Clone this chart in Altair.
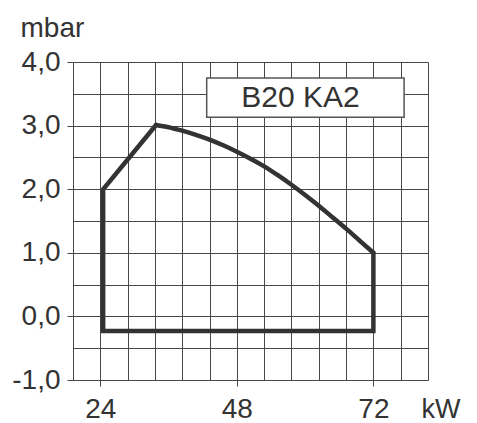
import altair as alt
import pandas as pd

# Operating envelope (kW vs mbar): straight part of the outline
edge_kw = [72.0, 72.0, 24.5, 24.5, 33.8]
edge_mbar = [1.0, -0.23, -0.23, 2.0, 3.01]

# Curved upper boundary
curve_kw = [33.8, 36.0, 38.4, 40.8, 43.2, 45.6, 48.0, 50.4, 52.8, 55.2, 57.6,
            60.0, 62.4, 64.8, 67.2, 69.6, 72.0]
curve_mbar = [3.01, 2.975, 2.92, 2.855, 2.78, 2.69, 2.59, 2.48, 2.36, 2.22, 2.07,
              1.91, 1.74, 1.56, 1.38, 1.19, 1.0]

# Axis grid and labels
x_grid = [19.2, 24.0, 28.8, 33.6, 38.4, 43.2, 48.0, 52.8, 57.6, 62.4, 67.2, 72.0, 76.8, 81.6]
x_labels = [24, 48, 72]
y_grid = [-1.0, -0.5, 0.0, 0.5, 1.0, 1.5, 2.0, 2.5, 3.0, 3.5, 4.0]

# Label box
box_text = ["B20 KA2"]
box_x = [42.7]
box_x2 = [77.4]
box_y = [3.13]
box_y2 = [3.75]
text_x = [59.2]
text_y = [3.44]

FONT = "Liberation Sans"
INK = "#333333"
GRID = "#474747"

edge = pd.DataFrame({"x": edge_kw, "y": edge_mbar, "order": list(range(len(edge_kw)))})
curve = pd.DataFrame({"x": curve_kw, "y": curve_mbar})
box = pd.DataFrame({"x": box_x, "x2": box_x2, "y": box_y, "y2": box_y2})
label = pd.DataFrame({"x": text_x, "y": text_y, "t": box_text})

x_test = " || ".join(f"datum.value == {v}" for v in x_labels)

xscale = alt.Scale(domain=[19.2, 81.6], nice=False, zero=False)
yscale = alt.Scale(domain=[-1.0, 4.0], nice=False, zero=False)

xaxis = alt.Axis(
    values=x_grid, grid=True, gridColor=GRID, gridOpacity=1, gridWidth=1,
    domain=False, tickColor=GRID, tickWidth=1, tickSize=6,
    tickOpacity={"condition": {"test": x_test, "value": 1}, "value": 0},
    labelExpr=f"({x_test}) ? datum.label : ''",
    labelFont=FONT, labelFontSize=28, labelColor=INK, labelPadding=9,
    labelFlush=False, labelOverlap=False, labelBound=False,
    title="kW", titleFont=FONT, titleFontSize=27, titleFontWeight="normal",
    titleColor=INK, titleAngle=0, titleAlign="left", titleBaseline="alphabetic",
    titleX=348, titleY=37,
)
yaxis = alt.Axis(
    values=y_grid, grid=True, gridColor=GRID, gridOpacity=1, gridWidth=1,
    domain=False, tickColor=GRID, tickWidth=1, tickSize=6,
    tickOpacity={"condition": {"test": "datum.value % 1 == 0", "value": 1}, "value": 0},
    labelExpr="datum.value % 1 == 0 ? datum.value + ',0' : ''",
    labelFont=FONT, labelFontSize=28, labelColor=INK, labelPadding=7,
    labelFlush=False, labelOverlap=False, labelBaseline="middle",
    title="mbar", titleFont=FONT, titleFontSize=28, titleFontWeight="normal",
    titleColor=INK, titleAngle=0, titleAlign="left", titleBaseline="alphabetic",
    titleX=-53, titleY=-26,
)

X = alt.X("x:Q", scale=xscale, axis=xaxis)
Y = alt.Y("y:Q", scale=yscale, axis=yaxis)

edge_line = alt.Chart(edge).mark_line(
    color=INK, strokeWidth=4.5, strokeJoin="miter", strokeCap="round"
).encode(x=X, y=Y, order="order:Q")

curve_line = alt.Chart(curve).mark_line(
    color=INK, strokeWidth=4.5, strokeCap="round", interpolate="monotone"
).encode(x=X, y=Y)

rect = alt.Chart(box).mark_rect(fill="white", stroke="#555555", strokeWidth=1.5).encode(
    x=X, x2="x2:Q", y=Y, y2="y2:Q",
)

txt = alt.Chart(label).mark_text(
    font=FONT, fontSize=30, color=INK, align="center", baseline="middle"
).encode(x=X, y=Y, text="t:N")

chart = alt.layer(edge_line, curve_line, rect, txt).properties(
    width=355, height=318,
    padding={"left": 65, "top": 54, "right": 41, "bottom": 45},
    autosize=alt.AutoSizeParams(type="none"),
    background="white",
).configure_view(stroke=None)

chart.save("out.html", embed_options={"renderer": "svg", "actions": False})
